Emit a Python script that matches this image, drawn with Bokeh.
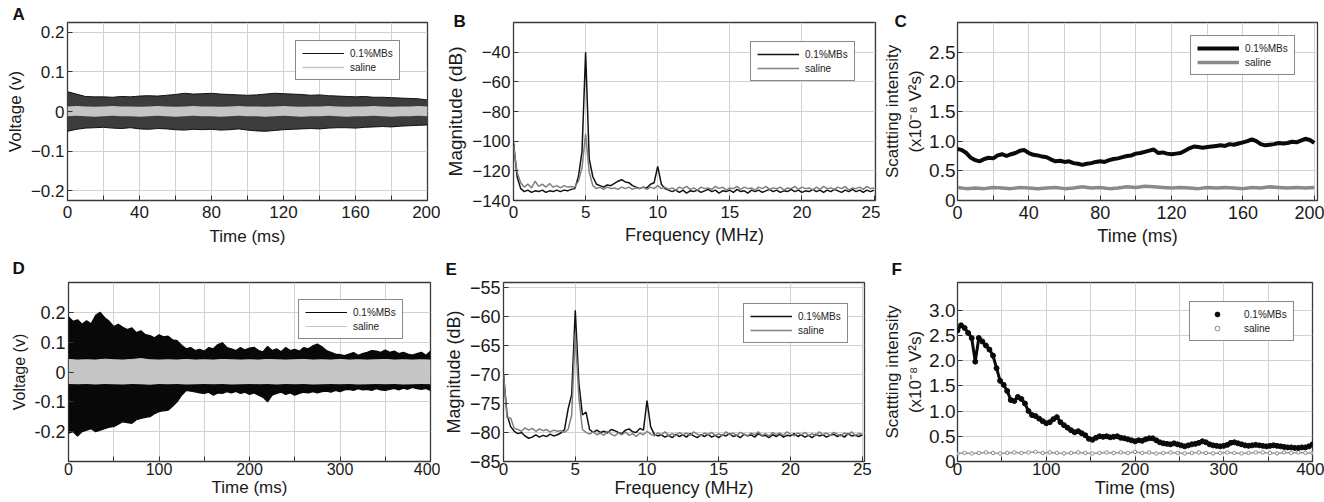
import numpy as np
from bokeh.plotting import figure
from bokeh.models import (FixedTicker, Legend, LegendItem, Range1d, PrintfTickFormatter)
from bokeh.layouts import column, row
from bokeh.embed import file_html
from bokeh.resources import INLINE

FONT = "Liberation Sans"
LEG_MB = "0.1%MBs"
LEG_SAL = "saline"

# ---------------- Panel A: voltage, 200 ms (envelopes, 5 ms sampling) ----------------
a_time = list(range(0, 201, 5))
a_mb_upper = [0.050, 0.044, 0.038, 0.037, 0.037, 0.036, 0.038, 0.037, 0.039, 0.040, 0.039,
              0.041, 0.043, 0.046, 0.044, 0.045, 0.046, 0.044, 0.043, 0.042, 0.041, 0.042,
              0.044, 0.046, 0.045, 0.044, 0.043, 0.041, 0.042, 0.040, 0.039, 0.038, 0.037,
              0.038, 0.036, 0.036, 0.035, 0.034, 0.033, 0.032, 0.029]
a_mb_lower = [-0.050, -0.045, -0.042, -0.041, -0.040, -0.042, -0.043, -0.041, -0.044, -0.045,
              -0.043, -0.044, -0.046, -0.047, -0.045, -0.046, -0.045, -0.047, -0.046, -0.044,
              -0.047, -0.049, -0.050, -0.048, -0.046, -0.045, -0.044, -0.043, -0.044, -0.042,
              -0.041, -0.041, -0.042, -0.040, -0.039, -0.038, -0.039, -0.037, -0.036, -0.035, -0.034]
a_sal_upper = [0.011, 0.012, 0.011, 0.010, 0.011, 0.012, 0.011, 0.011, 0.010, 0.011, 0.012,
               0.011, 0.010, 0.011, 0.012, 0.011, 0.011, 0.010, 0.011, 0.012, 0.011, 0.011,
               0.010, 0.011, 0.012, 0.011, 0.010, 0.011, 0.011, 0.012, 0.011, 0.010, 0.011,
               0.011, 0.012, 0.011, 0.010, 0.011, 0.011, 0.012, 0.011]
a_sal_lower = [-0.012, -0.011, -0.012, -0.013, -0.012, -0.011, -0.012, -0.012, -0.013, -0.012,
               -0.011, -0.012, -0.013, -0.012, -0.011, -0.012, -0.012, -0.013, -0.012, -0.011,
               -0.012, -0.012, -0.013, -0.012, -0.011, -0.012, -0.013, -0.012, -0.012, -0.011,
               -0.012, -0.013, -0.012, -0.012, -0.011, -0.012, -0.013, -0.012, -0.012, -0.011, -0.012]

# ---------------- Panel B: spectrum (dB), 0.25 MHz sampling ----------------
b_freq = list(np.arange(0, 25.01, 0.25))
b_mb = [-101, -124, -132, -134, -133, -134.5, -133.5, -134, -133, -134.5,
        -133.5, -134, -133, -134, -133, -133.5, -132.5, -132, -124, -107,
        -40, -112, -124, -129, -130, -131, -129.5, -130, -128.5, -127,
        -126, -127.5, -128, -130, -131, -132, -131, -131.5, -129, -128,
        -117, -129, -132, -133, -134, -133, -134.5, -133, -135, -133.5,
        -134, -133, -134.5, -133.5, -132.5, -134, -133, -135, -133.5, -134,
        -133, -134.5, -132.5, -134, -133.5, -135, -133, -134, -133, -134.5,
        -133.5, -132.5, -134, -133, -134.5, -133.5, -134, -132.5, -134, -133,
        -134.5, -133.5, -134, -132.5, -134, -133, -134.5, -133, -134, -132.5,
        -133.5, -134.5, -133, -134, -132.5, -134, -133, -134.5, -133, -134, -133]
b_sal = [-103, -121, -128, -131, -129, -131.5, -127, -130.5, -129, -131,
         -128.5, -131, -130, -131.5, -130, -131, -130.5, -131, -127, -118,
         -95, -121, -130, -132, -131, -132.5, -131, -132, -131.5, -132.5,
         -131, -132, -131, -132.5, -131.5, -132, -131, -132.5, -131, -132,
         -130, -132, -131, -132.5, -131.5, -133, -131, -132, -130.5, -132.5,
         -131.5, -133, -131, -132, -131.5, -132.5, -130.5, -132, -131, -133,
         -131.5, -132, -130.5, -132.5, -131, -132, -131.5, -133, -131, -132,
         -130.5, -132.5, -131.5, -132, -131, -133, -131.5, -132, -130.5, -132.5,
         -131, -132, -131.5, -133, -131, -132.5, -130.5, -132, -131.5, -132.5,
         -131, -132, -130.5, -133, -131.5, -132, -131, -132.5, -130.5, -132, -131.5]

# ---------------- Panel C: scattering intensity, 200 ms ----------------
c_time_mb = list(np.arange(0, 200.1, 2.5))
c_mb = [0.87, 0.85, 0.80, 0.72, 0.68, 0.66, 0.70, 0.72, 0.71, 0.76, 0.78, 0.75, 0.78, 0.80,
        0.84, 0.85, 0.80, 0.77, 0.76, 0.74, 0.73, 0.69, 0.66, 0.67, 0.65, 0.66, 0.63, 0.62,
        0.60, 0.62, 0.63, 0.65, 0.66, 0.65, 0.68, 0.70, 0.71, 0.73, 0.75, 0.76, 0.79, 0.80,
        0.82, 0.84, 0.86, 0.80, 0.81, 0.79, 0.78, 0.79, 0.80, 0.84, 0.88, 0.91, 0.90, 0.89,
        0.90, 0.91, 0.92, 0.93, 0.92, 0.95, 0.94, 0.96, 0.98, 1.00, 1.03, 1.00, 0.95, 0.93,
        0.94, 0.95, 0.97, 0.96, 0.97, 0.99, 0.98, 1.01, 1.04, 1.02, 0.97]
c_time_sal = list(range(0, 201, 5))
c_sal = [0.22, 0.20, 0.21, 0.20, 0.22, 0.21, 0.20, 0.22, 0.21, 0.20, 0.21, 0.22, 0.20, 0.21,
         0.23, 0.21, 0.22, 0.20, 0.21, 0.23, 0.22, 0.24, 0.23, 0.22, 0.21, 0.22, 0.21, 0.20,
         0.22, 0.21, 0.22, 0.21, 0.20, 0.22, 0.21, 0.23, 0.22, 0.21, 0.22, 0.21, 0.22]

# ---------------- Panel D: voltage, 400 ms (envelopes) ----------------
d_time = list(range(0, 401, 5))
d_mb_upper = [0.185, 0.170, 0.175, 0.160, 0.172, 0.162, 0.190, 0.200, 0.182, 0.170,
              0.152, 0.160, 0.150, 0.142, 0.148, 0.132, 0.138, 0.125, 0.122, 0.115,
              0.125, 0.118, 0.120, 0.108, 0.105, 0.090, 0.078, 0.082, 0.072, 0.076,
              0.070, 0.082, 0.078, 0.092, 0.098, 0.082, 0.078, 0.072, 0.082, 0.074,
              0.080, 0.083, 0.072, 0.068, 0.086, 0.072, 0.078, 0.068, 0.082, 0.072,
              0.076, 0.070, 0.082, 0.078, 0.088, 0.094, 0.085, 0.072, 0.066, 0.060,
              0.058, 0.055, 0.060, 0.065, 0.056, 0.062, 0.066, 0.072, 0.070, 0.066,
              0.074, 0.066, 0.070, 0.062, 0.066, 0.060, 0.057, 0.062, 0.066, 0.056, 0.070]
d_mb_lower = [-0.205, -0.200, -0.215, -0.200, -0.195, -0.190, -0.200, -0.195, -0.190, -0.185,
              -0.183, -0.175, -0.167, -0.170, -0.172, -0.160, -0.156, -0.152, -0.150, -0.140,
              -0.133, -0.130, -0.128, -0.115, -0.100, -0.078, -0.062, -0.064, -0.067, -0.070,
              -0.072, -0.068, -0.078, -0.070, -0.072, -0.066, -0.070, -0.065, -0.072, -0.068,
              -0.075, -0.070, -0.078, -0.085, -0.100, -0.078, -0.072, -0.068, -0.075, -0.070,
              -0.078, -0.072, -0.068, -0.070, -0.066, -0.070, -0.066, -0.064, -0.068, -0.062,
              -0.066, -0.060, -0.058, -0.062, -0.056, -0.060, -0.058, -0.062, -0.056, -0.060,
              -0.062, -0.058, -0.055, -0.060, -0.054, -0.058, -0.052, -0.056, -0.058, -0.055, -0.062]
d_time_sal = list(range(0, 401, 10))
d_sal_upper = [0.042, 0.040, 0.041, 0.040, 0.043, 0.041, 0.040, 0.042, 0.045, 0.041, 0.040,
               0.041, 0.040, 0.042, 0.040, 0.041, 0.040, 0.042, 0.041, 0.040, 0.041, 0.040,
               0.042, 0.041, 0.040, 0.041, 0.042, 0.040, 0.041, 0.040, 0.042, 0.040, 0.041,
               0.040, 0.041, 0.042, 0.040, 0.041, 0.040, 0.041, 0.040]
d_sal_lower = [-0.040, -0.041, -0.040, -0.042, -0.040, -0.041, -0.042, -0.040, -0.041, -0.043,
               -0.040, -0.041, -0.040, -0.042, -0.041, -0.040, -0.041, -0.040, -0.042, -0.041,
               -0.040, -0.041, -0.040, -0.042, -0.040, -0.041, -0.040, -0.042, -0.041, -0.040,
               -0.041, -0.040, -0.042, -0.041, -0.040, -0.041, -0.040, -0.042, -0.041, -0.040, -0.041]

# ---------------- Panel E: spectrum (dB), 0.25 MHz sampling ----------------
e_freq = list(np.arange(0, 25.01, 0.25))
e_mb = [-70, -77, -79, -79.8, -80.2, -80, -80.6, -81, -80.8, -80.4,
        -80.8, -80.5, -80.7, -80.3, -80.6, -80.4, -80.1, -79.5, -76, -73.5,
        -59, -71.5, -77, -76.5, -79.5, -80, -79.6, -80, -79.8, -80.1,
        -79.5, -79.7, -80, -80.2, -79.6, -79.4, -79.9, -80, -79.3, -79.6,
        -74.5, -79, -80.3, -80.6, -80.4, -80.8, -80.5, -80.9, -80.3, -80.7,
        -80.4, -80.8, -80.2, -80.6, -80.9, -80.4, -80.7, -80.3, -80.8, -80.5,
        -80.9, -80.4, -80.6, -80.2, -80.7, -80.5, -80.9, -80.3, -80.6, -80.4,
        -80.8, -80.2, -80.6, -80.5, -80.9, -80.4, -80.7, -80.3, -80.8, -80.5,
        -80.6, -80.2, -80.7, -80.4, -80.8, -80.5, -80.9, -80.3, -80.6, -80.4,
        -80.8, -80.5, -80.3, -80.7, -80.4, -80.8, -80.2, -80.6, -80.5, -80.7, -80.4]
e_sal = [-70, -77.5, -77.5, -79.3, -79.5, -79.8, -79.2, -79.6, -79.3, -79.8,
         -79.4, -79.7, -79.5, -79.9, -79.6, -79.8, -79.7, -80, -79.5, -77,
         -63, -74, -79.5, -80, -80.3, -79.9, -80.4, -80.1, -80.5, -79.8,
         -80.3, -80.6, -80.1, -80.4, -79.9, -80.5, -80.2, -80.7, -80.1, -80.4,
         -79.8, -80.3, -80.6, -80.1, -80.4, -79.9, -80.5, -80.2, -80.6, -80.0,
         -80.4, -80.1, -80.5, -79.9, -80.3, -80.6, -80.1, -80.4, -80.0, -80.5,
         -80.2, -80.6, -79.9, -80.4, -80.1, -80.5, -80.0, -80.3, -80.6, -80.1,
         -80.4, -79.9, -80.5, -80.2, -80.6, -80.0, -80.4, -80.1, -80.5, -79.9,
         -80.3, -80.6, -80.1, -80.4, -80.0, -80.5, -80.2, -80.6, -79.9, -80.4,
         -80.1, -80.5, -80.0, -80.3, -80.6, -80.1, -80.4, -79.9, -80.5, -80.2, -80.3]

# ---------------- Panel F: scattering intensity, 400 ms ----------------
f_time_mb = list(range(0, 401, 4))
f_mb = [2.60, 2.70, 2.65, 2.55, 2.45, 1.98, 2.45, 2.38, 2.30, 2.22, 2.10, 1.85, 1.60, 1.52,
        1.40, 1.22, 1.20, 1.28, 1.24, 1.15, 1.00, 0.92, 0.90, 0.85, 0.80, 0.76, 0.78, 0.84,
        0.88, 0.78, 0.72, 0.67, 0.62, 0.58, 0.60, 0.56, 0.52, 0.45, 0.43, 0.47, 0.50, 0.49,
        0.50, 0.48, 0.49, 0.50, 0.47, 0.46, 0.44, 0.42, 0.40, 0.42, 0.41, 0.44, 0.46, 0.46,
        0.42, 0.38, 0.36, 0.35, 0.34, 0.36, 0.34, 0.32, 0.30, 0.32, 0.34, 0.35, 0.37, 0.40,
        0.38, 0.34, 0.32, 0.31, 0.30, 0.31, 0.33, 0.37, 0.38, 0.36, 0.34, 0.32, 0.31, 0.32,
        0.33, 0.32, 0.31, 0.30, 0.31, 0.32, 0.31, 0.30, 0.29, 0.28, 0.28, 0.27, 0.27, 0.28,
        0.28, 0.30, 0.34]
f_time_sal = list(range(0, 401, 8))
f_sal = [0.16, 0.17, 0.16, 0.17, 0.18, 0.17, 0.16, 0.17, 0.18, 0.17, 0.18, 0.19, 0.17,
         0.18, 0.17, 0.16, 0.17, 0.18, 0.17, 0.16, 0.17, 0.18, 0.17, 0.18, 0.17, 0.19,
         0.17, 0.18, 0.16, 0.17, 0.18, 0.17, 0.16, 0.17, 0.18, 0.17, 0.16, 0.17, 0.18,
         0.17, 0.16, 0.17, 0.18, 0.18, 0.17, 0.16, 0.18, 0.17, 0.18, 0.17, 0.17]

SC_LABEL = "Scattting intensity\n(x10\u207b\u2078 V\u00b2s)"


def make_fig(w, h, bl, br, bt, bb, xr, yr):
    p = figure(width=w, height=h, x_range=Range1d(*xr), y_range=Range1d(*yr),
               output_backend="svg", toolbar_location=None,
               min_border_left=bl, min_border_right=br, min_border_top=bt, min_border_bottom=bb)
    p.outline_line_color = "#3a3a3a"
    p.outline_line_width = 1.3
    p.background_fill_color = "white"
    p.border_fill_color = "white"
    return p


def style(p, xt, x_every, yt, y_over, xlabel, ylabel, xtick_fs, ytick_fs, xl_fs, yl_fs,
          x_std=4, x_lstd=5, y_std=3, y_lstd=3, y_fmt=None):
    x_over = {t: "" for t in xt if (t % x_every) != 0}
    xa = p.xaxis[0]
    ya = p.yaxis[0]
    xa.ticker = FixedTicker(ticks=xt)
    ya.ticker = FixedTicker(ticks=yt)
    if y_fmt:
        ya.formatter = PrintfTickFormatter(format=y_fmt)
    xa.major_label_overrides = x_over
    ya.major_label_overrides = y_over
    for ax, fs in ((xa, xtick_fs), (ya, ytick_fs)):
        ax.major_label_text_font = FONT
        ax.major_label_text_font_size = fs
        ax.major_label_text_color = "#1a1a1a"
        ax.axis_label_text_font = FONT
        ax.axis_label_text_font_style = "normal"
        ax.axis_label_text_color = "#1a1a1a"
        ax.major_tick_in = 5
        ax.major_tick_out = 0
        ax.major_tick_line_color = "#333333"
        ax.minor_tick_line_color = None
        ax.axis_line_color = None
    xa.axis_label = xlabel
    ya.axis_label = ylabel
    xa.axis_label_text_font_size = xl_fs
    ya.axis_label_text_font_size = yl_fs
    xa.major_label_standoff = x_std
    xa.axis_label_standoff = x_lstd
    ya.major_label_standoff = y_std
    ya.axis_label_standoff = y_lstd
    p.xgrid.ticker = FixedTicker(ticks=xt)
    p.ygrid.ticker = FixedTicker(ticks=yt)
    for g in (p.xgrid[0], p.ygrid[0]):
        g.grid_line_color = "#d2d2d2"
        g.grid_line_width = 1


def add_legend(p, r1, r2, loc):
    lg = Legend(items=[LegendItem(label=LEG_MB, renderers=[r1]),
                       LegendItem(label=LEG_SAL, renderers=[r2])],
                location=loc, margin=0, padding=6, spacing=2, glyph_width=42, glyph_height=12,
                label_standoff=6, label_text_font=FONT, label_text_font_size="10px",
                label_text_color="#222222", label_height=12,
                border_line_color="#111111", border_line_width=1.2, background_fill_alpha=1.0)
    p.add_layout(lg)


def add_letter(p, letter, offset, standoff):
    t = p.title
    t.text = letter
    t.align = "left"
    t.offset = offset
    t.standoff = standoff
    t.vertical_align = "bottom"
    t.text_font = FONT
    t.text_font_size = "17px"
    t.text_font_style = "bold"
    t.text_color = "#111111"


# ---------- A ----------
pA = make_fig(440, 250, 67, 13, 20, 50, (0, 200), (-0.225, 0.225))
pA.varea(x=a_time, y1=a_mb_lower, y2=a_mb_upper, fill_color="#3c3c3c")
rA1 = pA.line(a_time, a_mb_upper, line_color="#111111", line_width=1)
pA.line(a_time, a_mb_lower, line_color="#111111", line_width=1)
pA.varea(x=a_time, y1=a_sal_lower, y2=a_sal_upper, fill_color="#c4c4c4")
rA2 = pA.line(a_time, a_sal_upper, line_color="#c4c4c4", line_width=1.5)
style(pA, list(range(0, 201, 20)), 40, [-0.2, -0.1, 0, 0.1, 0.2], {0: "0"},
      "Time (ms)", "Voltage (v)", "17px", "17px", "17px", "17px", x_std=5, x_lstd=6)
add_legend(pA, rA1, rA2, (228, 120))
add_letter(pA, "A", -55, -3)

# ---------- B ----------
pB = make_fig(440, 250, 73, 5, 22, 50, (0, 25.1), (-140, -20))
rB1 = pB.line(b_freq, b_mb, line_color="#111111", line_width=1.5)
rB2 = pB.line(b_freq, b_sal, line_color="#808080", line_width=1.5)
style(pB, list(range(0, 26, 5)), 5, list(range(-140, -39, 20)), {},
      "Frequency (MHz)", "Magnitude (dB)", "17px", "17px", "18px", "19px", x_std=5, x_lstd=4)
add_legend(pB, rB1, rB2, (237, 119))
add_letter(pB, "B", -60, -17)

# ---------- C ----------
pC = make_fig(444, 250, 72, 7, 18, 50, (0, 201.8), (0, 3.0))
rC2 = pC.line(c_time_sal, c_sal, line_color="#8a8a8a", line_width=3.5)
rC1 = pC.line(c_time_mb, c_mb, line_color="#0a0a0a", line_width=4)
style(pC, list(range(0, 201, 20)), 40, [0, 0.5, 1.0, 1.5, 2.0, 2.5], {0: "0"},
      "Time (ms)", SC_LABEL, "18px", "19px", "18px", "17px", x_std=5, x_lstd=4, y_std=2,
      y_lstd=1, y_fmt="%.1f")
add_legend(pC, rC1, rC2, (233, 125))
add_letter(pC, "C", -63, -17)

# ---------- D ----------
pD = make_fig(440, 252, 68, 10, 32, 40, (0, 400), (-0.3, 0.3))
pD.varea(x=d_time, y1=d_mb_lower, y2=d_mb_upper, fill_color="#080808")
rD1 = pD.line(d_time, d_mb_upper, line_color="#080808", line_width=1.2)
pD.line(d_time, d_mb_lower, line_color="#080808", line_width=1.2)
pD.varea(x=d_time_sal, y1=d_sal_lower, y2=d_sal_upper, fill_color="#c6c6c6")
rD2 = pD.line(d_time_sal, d_sal_upper, line_color="#c6c6c6", line_width=1)
style(pD, list(range(0, 401, 50)), 100, [-0.2, -0.1, 0, 0.1, 0.2], {0: "0"},
      "Time (ms)", "Voltage (v)", "16px", "18px", "17px", "16px", x_std=1, x_lstd=0,
      y_fmt="%.1f")
add_legend(pD, rD1, rD2, (230, 122))
add_letter(pD, "D", -56, 10)

# ---------- E ----------
pE = make_fig(440, 252, 63, 16, 32, 41, (0, 25.15), (-85, -54.2))
rE1 = pE.line(e_freq, e_mb, line_color="#111111", line_width=1.5)
rE2 = pE.line(e_freq, e_sal, line_color="#808080", line_width=1.5)
style(pE, list(range(0, 26, 5)), 5, list(range(-85, -54, 5)), {},
      "Frequency (MHz)", "Magnitude (dB)", "17px", "18px", "18px", "18px", x_std=1, x_lstd=0)
add_legend(pE, rE1, rE2, (240, 118))
add_letter(pE, "E", -58, 7)

# ---------- F ----------
pF = make_fig(444, 252, 70, 12, 32, 39, (0, 400), (0, 3.55))
pF.line(f_time_sal, f_sal, line_color="#9a9a9a", line_width=1.5)
rF2 = pF.scatter(f_time_sal, f_sal, size=3.5, marker="circle", fill_color="white",
                 line_color="#8a8a8a", line_width=1)
pF.line(f_time_mb, f_mb, line_color="#0a0a0a", line_width=3)
rF1 = pF.scatter(f_time_mb, f_mb, size=5, marker="circle", fill_color="#0a0a0a",
                 line_color="#0a0a0a")
style(pF, list(range(0, 401, 50)), 100, [0, 0.5, 1.0, 1.5, 2.0, 2.5, 3.0], {0: "0"},
      "Time (ms)", SC_LABEL, "17px", "19px", "18px", "17px", x_std=1, x_lstd=0, y_std=2,
      y_lstd=1, y_fmt="%.1f")
add_legend(pF, rF1, rF2, (232, 120))
add_letter(pF, "F", -66, 7)

layout = column(row(pA, pB, pC), row(pD, pE, pF))
open("out.html", "w").write(file_html(layout, INLINE))
